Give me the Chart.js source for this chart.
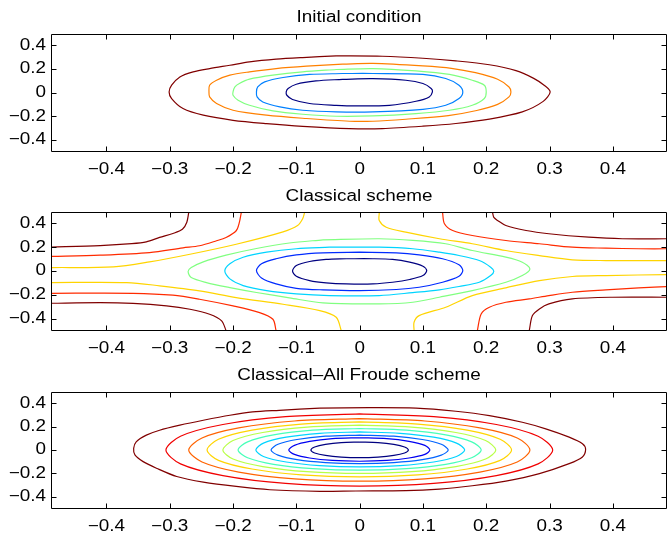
<!DOCTYPE html>
<html>
<head>
<meta charset="utf-8">
<script src="https://cdn.jsdelivr.net/npm/chart.js@4/dist/chart.umd.min.js"></script>
<style>
  body { margin: 0; background: #fff; }
  #wrap { position: relative; width: 667px; height: 533px; }
  canvas { position: absolute; left: 0; }
</style>
</head>
<body>
<div id="wrap">
  <canvas id="c1" width="667" height="178" style="top:0"></canvas>
  <canvas id="c2" width="667" height="180" style="top:178px"></canvas>
  <canvas id="c3" width="667" height="175" style="top:358px"></canvas>
</div>
<script>
const xTicks = [-0.4, -0.3, -0.2, -0.1, 0, 0.1, 0.2, 0.3, 0.4];
const yTicks = [-0.4, -0.2, 0, 0.2, 0.4];
const titles = ['Initial condition', 'Classical scheme', 'Classical\u2013All Froude scheme'];

// --- initial condition contours (outer to inner), each closed loop starts at its top ---
const initDarkRed = [[-0.037,0.310],[0.036,0.307],[0.100,0.290],[0.152,0.268],[0.205,0.235],[0.247,0.185],[0.275,0.120],[0.292,0.060],[0.301,0.005],[0.290,-0.075],[0.257,-0.164],[0.205,-0.225],[0.152,-0.262],[0.100,-0.285],[0.036,-0.305],[-0.016,-0.305],[-0.090,-0.286],[-0.147,-0.263],[-0.200,-0.235],[-0.247,-0.192],[-0.279,-0.136],[-0.297,-0.051],[-0.301,0.005],[-0.297,0.062],[-0.284,0.132],[-0.263,0.175],[-0.237,0.203],[-0.205,0.231],[-0.174,0.259],[-0.132,0.282],[-0.090,0.296],[-0.037,0.310]];
const initOrange = [[-0.027,0.240],[0.021,0.246],[0.100,0.225],[0.145,0.205],[0.183,0.168],[0.218,0.112],[0.236,0.047],[0.239,0.005],[0.236,-0.037],[0.218,-0.100],[0.185,-0.152],[0.140,-0.195],[0.073,-0.226],[0.021,-0.243],[-0.016,-0.243],[-0.084,-0.220],[-0.147,-0.192],[-0.200,-0.150],[-0.226,-0.093],[-0.237,-0.037],[-0.238,0.005],[-0.237,0.062],[-0.226,0.104],[-0.205,0.147],[-0.174,0.175],[-0.132,0.203],[-0.084,0.223],[-0.027,0.240]];
const initGreen = [[-0.037,0.195],[0.021,0.203],[0.089,0.183],[0.142,0.153],[0.178,0.104],[0.197,0.062],[0.200,0.005],[0.197,-0.051],[0.178,-0.108],[0.142,-0.150],[0.089,-0.178],[0.021,-0.198],[-0.037,-0.201],[-0.090,-0.184],[-0.137,-0.156],[-0.174,-0.108],[-0.192,-0.065],[-0.200,-0.023],[-0.200,0.005],[-0.197,0.047],[-0.190,0.076],[-0.174,0.113],[-0.137,0.147],[-0.090,0.175],[-0.037,0.195]];
const initBlue = [[-0.027,0.161],[0.021,0.161],[0.100,0.153],[0.136,0.119],[0.157,0.062],[0.163,0.005],[0.157,-0.051],[0.136,-0.108],[0.100,-0.142],[0.021,-0.164],[-0.037,-0.164],[-0.090,-0.150],[-0.126,-0.122],[-0.153,-0.080],[-0.162,-0.037],[-0.163,0.005],[-0.161,0.047],[-0.150,0.090],[-0.121,0.127],[-0.079,0.153],[-0.027,0.161]];
const initNavy = [[-0.027,0.112],[0.021,0.117],[0.073,0.104],[0.100,0.076],[0.113,0.034],[0.115,0.005],[0.110,-0.037],[0.089,-0.074],[0.047,-0.108],[-0.006,-0.113],[-0.037,-0.108],[-0.079,-0.093],[-0.106,-0.059],[-0.115,-0.023],[-0.116,0.005],[-0.113,0.034],[-0.100,0.070],[-0.069,0.098],[-0.027,0.112]];
const initColors = ['#800000', '#ff8000', '#80ff80', '#0080ff', '#000080'];

// --- classical scheme: open level lines reaching the box edges ---
const clsDarkRedUL = [[-0.49,0.201],[-0.410,0.214],[-0.360,0.230],[-0.337,0.245],[-0.316,0.282],[-0.295,0.315],[-0.280,0.350],[-0.273,0.410],[-0.270,0.49]];
const clsDarkRedLR = [[0.49,-0.220],[0.399,-0.220],[0.336,-0.234],[0.299,-0.276],[0.284,-0.318],[0.273,-0.374],[0.268,-0.5]];
const clsDarkRedUR = [[0.210,0.49],[0.212,0.450],[0.218,0.424],[0.231,0.382],[0.263,0.340],[0.299,0.313],[0.362,0.284],[0.415,0.271],[0.49,0.271]];
const clsDarkRedLL = [[-0.49,-0.271],[-0.410,-0.265],[-0.358,-0.271],[-0.305,-0.292],[-0.268,-0.321],[-0.237,-0.363],[-0.218,-0.418],[-0.211,-0.5]];
const clsRedUL = [[-0.49,0.122],[-0.410,0.133],[-0.332,0.155],[-0.279,0.195],[-0.253,0.212],[-0.226,0.254],[-0.211,0.282],[-0.195,0.338],[-0.190,0.408],[-0.187,0.49]];
const clsRedLR = [[0.49,-0.130],[0.441,-0.141],[0.389,-0.158],[0.336,-0.178],[0.299,-0.206],[0.268,-0.234],[0.231,-0.262],[0.205,-0.304],[0.192,-0.360],[0.186,-0.5]];
const clsRedUR = [[0.131,0.49],[0.134,0.397],[0.147,0.340],[0.178,0.298],[0.231,0.256],[0.284,0.229],[0.336,0.200],[0.389,0.192],[0.441,0.187],[0.49,0.187]];
const clsRedLL = [[-0.49,-0.187],[-0.358,-0.187],[-0.295,-0.203],[-0.253,-0.237],[-0.200,-0.293],[-0.158,-0.349],[-0.137,-0.405],[-0.132,-0.5]];
const clsYellowUL = [[-0.49,0.029],[-0.389,0.035],[-0.332,0.077],[-0.268,0.141],[-0.195,0.225],[-0.121,0.329],[-0.098,0.382],[-0.090,0.439],[-0.087,0.49]];
const clsYellowLR = [[0.49,-0.029],[0.389,-0.038],[0.336,-0.046],[0.284,-0.080],[0.231,-0.141],[0.178,-0.206],[0.136,-0.304],[0.094,-0.374],[0.086,-0.430],[0.086,-0.5]];
const clsYellowUR = [[0.031,0.49],[0.031,0.424],[0.042,0.368],[0.073,0.326],[0.126,0.271],[0.178,0.229],[0.231,0.172],[0.284,0.130],[0.336,0.094],[0.389,0.088],[0.49,0.088]];
const clsYellowLL = [[-0.49,-0.097],[-0.368,-0.097],[-0.316,-0.124],[-0.253,-0.166],[-0.195,-0.223],[-0.121,-0.279],[-0.063,-0.332],[-0.037,-0.388],[-0.029,-0.5]];
// closed level lines around the centre
const clsGreen = [[-0.058,0.262],[0.031,0.271],[0.084,0.258],[0.136,0.229],[0.178,0.172],[0.231,0.116],[0.257,0.074],[0.269,0.018],[0.257,-0.038],[0.231,-0.094],[0.178,-0.164],[0.126,-0.220],[0.084,-0.262],[0.031,-0.276],[-0.058,-0.268],[-0.111,-0.225],[-0.163,-0.180],[-0.205,-0.139],[-0.242,-0.097],[-0.266,-0.055],[-0.271,-0.005],[-0.266,0.029],[-0.247,0.077],[-0.211,0.133],[-0.163,0.189],[-0.111,0.235],[-0.058,0.262]];
const clsCyan = [[-0.048,0.200],[0.031,0.200],[0.084,0.187],[0.126,0.158],[0.157,0.130],[0.189,0.088],[0.207,0.032],[0.212,-0.002],[0.207,-0.038],[0.189,-0.094],[0.157,-0.130],[0.126,-0.158],[0.084,-0.181],[0.031,-0.206],[-0.048,-0.206],[-0.100,-0.192],[-0.147,-0.164],[-0.184,-0.122],[-0.205,-0.066],[-0.213,0],[-0.205,0.061],[-0.184,0.116],[-0.147,0.158],[-0.100,0.187],[-0.048,0.200]];
const clsBlue = [[0,0.158],[0.058,0.153],[0.094,0.136],[0.131,0.103],[0.157,0.052],[0.163,0.004],[0.157,-0.044],[0.131,-0.094],[0.094,-0.136],[0.058,-0.155],[0,-0.164],[-0.058,-0.158],[-0.100,-0.145],[-0.132,-0.108],[-0.155,-0.058],[-0.163,0.004],[-0.155,0.061],[-0.132,0.103],[-0.100,0.136],[-0.058,0.153],[0,0.158]];
const clsNavy = [[-0.021,0.103],[0.021,0.103],[0.052,0.097],[0.079,0.074],[0.100,0.040],[0.106,0.004],[0.100,-0.038],[0.079,-0.071],[0.052,-0.094],[0.021,-0.108],[-0.021,-0.108],[-0.053,-0.099],[-0.079,-0.080],[-0.100,-0.044],[-0.106,0],[-0.100,0.046],[-0.079,0.080],[-0.053,0.097],[-0.021,0.103]];
const clsDarkRed = '#800000', clsRed = '#ff2b00', clsYellow = '#ffd400';
const clsInnerColors = ['#80ff80', '#00d4ff', '#002bff', '#000080'];

// --- classical / all Froude scheme (outer to inner) ---
const frDarkRed = [[-0.063,0.358],[0.015,0.362],[0.089,0.358],[0.152,0.331],[0.205,0.294],[0.257,0.237],[0.294,0.181],[0.331,0.110],[0.352,0.054],[0.357,0.006],[0.352,-0.059],[0.331,-0.116],[0.284,-0.201],[0.231,-0.265],[0.178,-0.305],[0.126,-0.333],[0.073,-0.347],[-0.006,-0.350],[-0.063,-0.353],[-0.142,-0.339],[-0.195,-0.311],[-0.247,-0.274],[-0.289,-0.226],[-0.321,-0.155],[-0.342,-0.099],[-0.355,-0.042],[-0.357,0.014],[-0.353,0.070],[-0.337,0.127],[-0.316,0.169],[-0.284,0.212],[-0.247,0.254],[-0.205,0.297],[-0.169,0.325],[-0.127,0.339],[-0.063,0.358]];
const frRed = [[0,0.308],[-0.117,0.285],[-0.216,0.218],[-0.283,0.118],[-0.306,0],[-0.283,-0.118],[-0.216,-0.218],[-0.117,-0.285],[0,-0.308],[0.117,-0.285],[0.216,-0.218],[0.282,-0.118],[0.305,0],[0.282,0.118],[0.216,0.218],[0.117,0.285],[0,0.308]];
const frOrange = [[0,0.268],[-0.103,0.248],[-0.191,0.189],[-0.249,0.103],[-0.270,0],[-0.249,-0.102],[-0.191,-0.188],[-0.103,-0.246],[0,-0.266],[0.103,-0.246],[0.190,-0.188],[0.249,-0.102],[0.269,0],[0.249,0.103],[0.190,0.189],[0.103,0.248],[0,0.268]];
const frYellow = [[0,0.240],[-0.092,0.222],[-0.170,0.170],[-0.223,0.092],[-0.241,0],[-0.223,-0.088],[-0.170,-0.162],[-0.092,-0.212],[0,-0.229],[0.092,-0.212],[0.170,-0.162],[0.222,-0.088],[0.240,0],[0.222,0.092],[0.170,0.170],[0.092,0.222],[0,0.240]];
const frLime = [[0,0.212],[-0.083,0.196],[-0.153,0.150],[-0.200,0.081],[-0.216,0],[-0.200,-0.077],[-0.153,-0.141],[-0.083,-0.185],[0,-0.200],[0.082,-0.185],[0.152,-0.141],[0.199,-0.077],[0.215,0],[0.199,0.081],[0.152,0.150],[0.082,0.196],[0,0.212]];
const frMint = [[0,0.184],[-0.074,0.170],[-0.136,0.130],[-0.177,0.070],[-0.192,0],[-0.177,-0.066],[-0.136,-0.122],[-0.074,-0.159],[0,-0.172],[0.074,-0.159],[0.136,-0.122],[0.177,-0.066],[0.192,0],[0.177,0.070],[0.136,0.130],[0.074,0.170],[0,0.184]];
const frCyan = [[0,0.155],[-0.063,0.143],[-0.116,0.110],[-0.152,0.059],[-0.164,0],[-0.152,-0.055],[-0.116,-0.102],[-0.063,-0.133],[0,-0.144],[0.064,-0.133],[0.117,-0.102],[0.153,-0.055],[0.166,0],[0.153,0.059],[0.117,0.110],[0.064,0.143],[0,0.155]];
const frAzure = [[0,0.128],[-0.054,0.118],[-0.099,0.090],[-0.129,0.049],[-0.140,0],[-0.129,-0.044],[-0.099,-0.082],[-0.054,-0.107],[0,-0.116],[0.054,-0.107],[0.099,-0.082],[0.129,-0.044],[0.140,0],[0.129,0.049],[0.099,0.090],[0.054,0.118],[0,0.128]];
const frBlue = [[0,0.105],[-0.043,0.097],[-0.079,0.074],[-0.103,0.040],[-0.112,0],[-0.103,-0.037],[-0.079,-0.068],[-0.043,-0.089],[0,-0.096],[0.043,-0.089],[0.078,-0.068],[0.103,-0.037],[0.111,0],[0.103,0.040],[0.078,0.074],[0.043,0.097],[0,0.105]];
const frNavy = [[0,0.068],[-0.029,0.063],[-0.054,0.048],[-0.071,0.026],[-0.077,0],[-0.071,-0.025],[-0.054,-0.046],[-0.029,-0.060],[0,-0.065],[0.029,-0.060],[0.054,-0.046],[0.071,-0.025],[0.077,0],[0.071,0.026],[0.054,0.048],[0.029,0.063],[0,0.068]];
const frColors = ['#800000', '#f10000', '#ff6300', '#ffd400', '#b8ff47', '#47ffb8', '#00d4ff', '#0063ff', '#0000f1', '#000080'];

const fmt = v => String(v).replace('-', '\u2212');

function contour(pts, color) {
  return {
    data: pts.map(p => ({ x: p[0], y: p[1] })),
    borderColor: color,
    borderWidth: 1.2,
    pointRadius: 0,
    showLine: true,
    tension: 0.3,
    fill: false
  };
}

// text in the figure is a bit wider than the font; stretch it sideways around its anchor
function stretchText(ctx, k) {
  const fill = ctx.fillText;
  ctx.fillText = function (t, x, y, w) {
    this.save();
    this.translate(x, y);
    this.scale(k, 1);
    if (w === undefined) fill.call(this, t, 0, 0);
    else fill.call(this, t, 0, 0, w / k);
    this.restore();
  };
}

// axes box with inward ticks on all four sides, like a matlab axes
const boxPlugin = {
  id: 'box',
  beforeInit(chart) { stretchText(chart.ctx, 1.18); },
  afterDraw(chart) {
    const { ctx, chartArea: a, scales } = chart;
    const L = a.left - 0.5, R = a.right + 0.5, T = a.top - 0.5, B = a.bottom + 0.5;
    ctx.save();
    ctx.strokeStyle = '#000';
    ctx.lineWidth = 1;
    ctx.beginPath();
    ctx.rect(L, T, R - L, B - T);
    xTicks.forEach(v => {
      const px = Math.round(scales.x.getPixelForValue(v)) + 0.5;
      ctx.moveTo(px, B); ctx.lineTo(px, B - 5);
      ctx.moveTo(px, T); ctx.lineTo(px, T + 5);
    });
    yTicks.forEach(v => {
      const py = Math.round(scales.y.getPixelForValue(v)) + 0.5;
      ctx.moveTo(L, py); ctx.lineTo(L + 5, py);
      ctx.moveTo(R, py); ctx.lineTo(R - 5, py);
    });
    ctx.stroke();
    ctx.restore();
  }
};

const font = { family: '"Liberation Sans", Arial, Helvetica, sans-serif', size: 16 };

function makeChart(id, title, padTop, padBottom, axisHeight, datasets) {
  return new Chart(document.getElementById(id), {
    type: 'scatter',
    data: { datasets },
    plugins: [boxPlugin],
    options: {
      responsive: false,
      animation: false,
      layout: { padding: { left: 0, right: 1, top: 0, bottom: 0 } },
      plugins: {
        legend: { display: false },
        tooltip: { enabled: false },
        title: {
          display: true,
          text: title,
          fullSize: false,
          color: '#000',
          font: { ...font, weight: 'normal', lineHeight: 1.25 },
          padding: { top: padTop, bottom: padBottom }
        }
      },
      scales: {
        x: {
          type: 'linear',
          min: -0.486,
          max: 0.484,
          grid: { display: false, drawTicks: false },
          border: { display: false },
          afterBuildTicks: s => { s.ticks = xTicks.map(v => ({ value: v })); },
          afterFit: s => { s.height = axisHeight; },
          ticks: { color: '#000', font: { ...font, lineHeight: 1.2 }, padding: 9, autoSkip: false, maxRotation: 0, callback: fmt }
        },
        y: {
          type: 'linear',
          min: -0.495,
          max: 0.487,
          grid: { display: false, drawTicks: false },
          border: { display: false },
          afterBuildTicks: s => { s.ticks = yTicks.map(v => ({ value: v })); },
          afterFit: s => { s.width = 52; },
          ticks: { color: '#000', font, padding: 6, callback: fmt }
        }
      }
    }
  });
}

makeChart('c1', titles[0], 8, 7, 27,
  [initDarkRed, initOrange, initGreen, initBlue, initNavy].map((c, i) => contour(c, initColors[i])));

makeChart('c2', titles[1], 9, 6, 28, [
  contour(clsDarkRedUL, clsDarkRed), contour(clsDarkRedLR, clsDarkRed),
  contour(clsDarkRedUR, clsDarkRed), contour(clsDarkRedLL, clsDarkRed),
  contour(clsRedUL, clsRed), contour(clsRedLR, clsRed),
  contour(clsRedUR, clsRed), contour(clsRedLL, clsRed),
  contour(clsYellowUL, clsYellow), contour(clsYellowLR, clsYellow),
  contour(clsYellowUR, clsYellow), contour(clsYellowLL, clsYellow),
  ...[clsGreen, clsCyan, clsBlue, clsNavy].map((c, i) => contour(c, clsInnerColors[i]))
]);

makeChart('c3', titles[2], 8, 7, 25,
  [frDarkRed, frRed, frOrange, frYellow, frLime, frMint, frCyan, frAzure, frBlue, frNavy].map((c, i) => contour(c, frColors[i])));
</script>
</body>
</html>
